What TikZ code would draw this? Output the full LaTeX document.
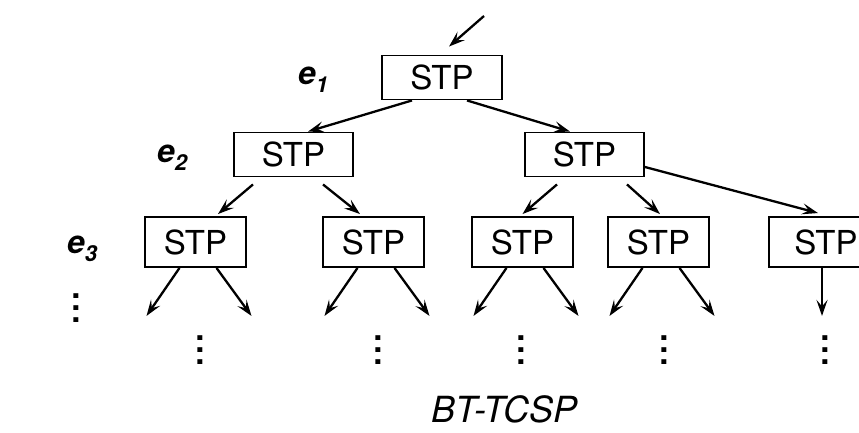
\documentclass[tikz,border=0pt]{standalone}
\usepackage{fontspec}
\setmainfont{TeX Gyre Heros}
\usetikzlibrary{arrows.meta}
\newcommand{\lsub}[1]{\raisebox{-8pt}{\fontsize{22}{24}\selectfont #1}}
\tikzset{
  n/.style={draw, line width=1.9pt, inner sep=0pt, minimum height=44pt, font=\fontsize{33}{36}\selectfont},
  nw/.style={n, minimum width=119pt},
  ns/.style={n, minimum width=101pt, minimum height=50pt},
  a/.style={-{Stealth[length=16pt, width=11pt, inset=6.5pt]}, line width=2.3pt},
  lvl/.style={anchor=base west, inner sep=0pt, font=\fontsize{32}{36}\selectfont\bfseries\itshape},
  dd/.style={align=center, inner sep=0pt, font=\fontsize{33}{12}\selectfont\bfseries},
}
\begin{document}
\begin{tikzpicture}[x=1pt, y=-1pt]
\path[use as bounding box] (0,0) rectangle (859,433);
\clip (0,0) rectangle (859,433);

\node[n, minimum width=120pt] (top) at (442,77.5)  {STP};
\node[nw]                     (l)   at (293.5,154.5) {STP};
\node[nw]                     (r)   at (584.5,154.5) {STP};
\node[ns] (s1) at (195.5,242) {STP};
\node[ns] (s2) at (373.5,242) {STP};
\node[ns] (s3) at (522.5,242) {STP};
\node[ns] (s4) at (658.5,242) {STP};
\node[ns, minimum width=114pt] (s5) at (826,242) {STP};

\node[lvl] (e1) at (298,85)  {e\lsub{1}};
\node[lvl] (e2) at (157,162) {e\lsub{2}};
\node[lvl] (e3) at (67,253)  {e\lsub{3}};

\coordinate (in) at (484,16);
\draw[a] (in) -- ([xshift=7pt, yshift=8pt]top.north);
\draw[a] ([xshift=-30pt]top.south) -- ([xshift=14.5pt]l.north);
\draw[a] ([xshift=25pt]top.south)  -- ([xshift=-14.5pt]r.north);
\draw[a] ([xshift=-40.5pt, yshift=-7pt]l.south) -- ([xshift=22.5pt, yshift=2pt]s1.north);
\draw[a] ([xshift=29.5pt, yshift=-7pt]l.south)  -- ([xshift=-13.5pt, yshift=2pt]s2.north);
\draw[a] ([xshift=-27.5pt, yshift=-7pt]r.south) -- ([yshift=2pt]s3.north);
\draw[a] ([xshift=42.5pt, yshift=-7pt]r.south)  -- ([xshift=1.5pt, yshift=2pt]s4.north);
\draw[a] ([yshift=-12.5pt]r.east) -- ([xshift=-8pt, yshift=3pt]s5.north);

\foreach \s in {s1,s2,s3,s4} {
  \coordinate (\s-l) at ([xshift=-49pt, yshift=-48pt]\s.south);
  \coordinate (\s-r) at ([xshift=56pt, yshift=-48pt]\s.south);
  \draw[a] ([xshift=-16pt]\s.south) -- (\s-l);
  \draw[a] ([xshift=21pt]\s.south)  -- (\s-r);
}
\coordinate (s5-d) at ([xshift=-4pt, yshift=-48pt]s5.south);
\draw[a] ([xshift=-4pt]s5.south) -- (s5-d);

\node[dd] (d0) at (76,308)    {.\\.\\.};
\node[dd] (d1) at (200,350.5) {.\\.\\.};
\node[dd] (d2) at (378,350.5) {.\\.\\.};
\node[dd] (d3) at (521,350.5) {.\\.\\.};
\node[dd] (d4) at (664,350.5) {.\\.\\.};
\node[dd] (d5) at (825,350.5) {.\\.\\.};

\node[anchor=base, font=\fontsize{36}{40}\selectfont\itshape] (title) at (504.5,422) {BT-TCSP};
\end{tikzpicture}
\end{document}
